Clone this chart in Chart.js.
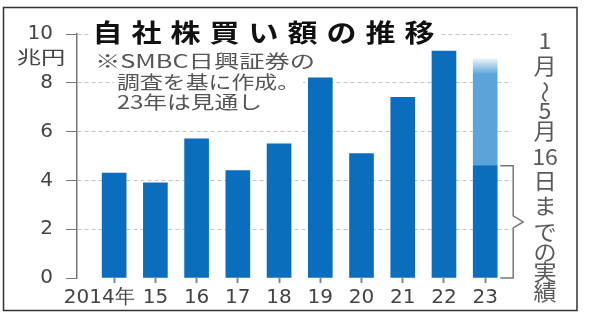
<!DOCTYPE html>
<html lang="ja">
<head>
<meta charset="utf-8">
<script src="https://cdn.jsdelivr.net/npm/chart.js@4.4.1/dist/chart.umd.min.js"></script>
<style>
  html, body { margin: 0; padding: 0; background: #fff; }
  canvas { background: #fff; }
</style>
</head>
<body>
<canvas id="chart" width="604" height="321"></canvas>
<script>
// 自社株買い額(兆円)
const years = ['2014年', '15', '16', '17', '18', '19', '20', '21', '22', '23'];
const actual = [4.3, 3.9, 5.7, 4.4, 5.5, 8.2, 5.1, 7.4, 9.3, 4.6];        // 23年は1月〜5月16日までの実績
const outlook = [null, null, null, null, null, null, null, null, null, 9.0]; // 23年の見通し
const yTicks = [0, 2, 4, 6, 8, 10];

const titleText = '自社株買い額の推移';
const unitText = '兆円';
const noteLines = ['※SMBC日興証券の', '調査を基に作成。', '23年は見通し'];
const sideText = ['1', '月', '〜', '5', '月', '16', '日', 'ま', 'で', 'の', '実', '績'];

const DARK = '#0b6dbd';
const LIGHT = '#5ba3d9';
const JP = '"Noto Sans CJK JP", "Noto Sans", sans-serif';

// 横に伸ばした文字を描く
const drawText = (ctx, text, x, y, sx, align) => {
    ctx.save();
    ctx.translate(x, y);
    ctx.scale(sx, 1);
    ctx.textAlign = align || 'left';
    ctx.fillText(text, 0, 0);
    ctx.restore();
};

const decor = {
    id: 'decor',
    afterDraw(chart) {
        const ctx = chart.ctx;
        const y = chart.scales.y;
        ctx.save();
        ctx.textBaseline = 'middle';

        // タイトル
        ctx.fillStyle = '#fff';
        ctx.fillRect(89, 16, 352, 32);
        ctx.fillStyle = '#111';
        ctx.font = 'bold 25px ' + JP;
        [...titleText].forEach((ch, i) => drawText(ctx, ch, 107.5 + i * 39, 32, 1.2, 'center'));

        // 単位
        ctx.fillStyle = '#444';
        ctx.font = '18px ' + JP;
        drawText(ctx, unitText, 41, 57, 1.35, 'center');

        // 注記
        ctx.font = '18px ' + JP;
        const notes = [[95, 61, 220], [117, 82, 183], [117, 102, 145]];
        noteLines.forEach((t, i) => {
            const [nx, ny, w] = notes[i];
            ctx.fillStyle = '#fff';
            ctx.fillRect(nx - 3, ny - 10, w + 6, 20);
            ctx.fillStyle = '#555';
            drawText(ctx, t, nx, ny, w / ctx.measureText(t).width);
        });

        // 右の縦書き
        ctx.fillStyle = '#5a5a5a';
        ctx.font = '22px ' + JP;
        const sideY = [41, 66, 92, 111, 131, 157, 181, 206, 232, 252, 272, 292];
        sideText.forEach((ch, i) => {
            if (ch === '〜') {
                ctx.save();
                ctx.translate(545, sideY[i]);
                ctx.rotate(Math.PI / 2);
                ctx.textAlign = 'center';
                ctx.fillText(ch, 0, 0);
                ctx.restore();
            } else {
                drawText(ctx, ch, 545, sideY[i], 1.05, 'center');
            }
        });

        // 実績部分のかっこ
        const bar = chart.getDatasetMeta(0).data[actual.length - 1];
        const right = bar.x + bar.width / 2;
        const top = bar.y;
        const bottom = y.getPixelForValue(0);
        const mid = (top + bottom) / 2;
        const lx = right + 16;
        ctx.strokeStyle = '#777';
        ctx.lineWidth = 1.5;
        ctx.beginPath();
        ctx.moveTo(right + 3, top);
        ctx.lineTo(lx, top);
        ctx.lineTo(lx, mid - 6);
        ctx.lineTo(lx + 10, mid);
        ctx.lineTo(lx, mid + 6);
        ctx.lineTo(lx, bottom);
        ctx.lineTo(right + 3, bottom);
        ctx.stroke();

        // 枠
        ctx.strokeStyle = '#333';
        ctx.lineWidth = 1.5;
        ctx.strokeRect(3.5, 7.5, 573.5, 303);
        ctx.restore();
    }
};

const ctx = document.getElementById('chart').getContext('2d');

new Chart(ctx, {
    type: 'bar',
    data: {
        datasets: [{
            label: '実績',
            data: years.map((_, i) => ({ x: i, y: actual[i] })),
            backgroundColor: DARK,
            barThickness: 24
        }, {
            label: '見通し',
            data: years.map((_, i) => outlook[i] == null ? null : { x: i, y: outlook[i] - actual[i] }).filter(Boolean),
            backgroundColor: (c) => {
                const chart = c.chart;
                if (!chart.chartArea || !c.raw) return LIGHT;
                const top = chart.scales.y.getPixelForValue(outlook[c.raw.x]);
                const g = chart.ctx.createLinearGradient(0, top, 0, top + 16);
                g.addColorStop(0, 'rgba(91,163,217,0.1)');
                g.addColorStop(1, LIGHT);
                return g;
            },
            barThickness: 24
        }]
    },
    options: {
        responsive: false,
        animation: false,
        layout: { padding: { left: 14.6, top: 34, right: 92, bottom: 8 } },
        plugins: {
            legend: { display: false },
            tooltip: { enabled: false }
        },
        scales: {
            x: {
                type: 'linear',
                min: -0.9,
                max: 9.65,
                offset: false,
                stacked: true,
                afterBuildTicks: (s) => { s.ticks = years.map((_, i) => ({ value: i })); },
                afterFit: (s) => { s.paddingLeft = 0; s.paddingRight = 0; },
                grid: { offset: false, drawOnChartArea: false, tickLength: 5, tickColor: '#888', tickWidth: 2 },
                border: { display: false },
                ticks: {
                    autoSkip: false,
                    maxRotation: 0,
                    minRotation: 0,
                    padding: 3,
                    color: '#444',
                    font: { family: 'DejaVu Sans', size: 20 },
                    callback: (v) => (v === 0 ? years[v] + '\u2002\u2002\u2002' : years[v])
                }
            },
            y: {
                min: 0,
                max: 10,
                stacked: true,
                afterBuildTicks: (s) => { s.ticks = yTicks.map(v => ({ value: v })); },
                grid: {
                    color: yTicks.map(v => (v === 0 ? 'rgba(0,0,0,0)' : '#c4c4c4')),
                    tickColor: '#777',
                    tickLength: 11
                },
                border: { color: '#777', width: 1.5, dash: [4, 3] },
                ticks: {
                    padding: 13,
                    color: '#444',
                    font: { family: 'DejaVu Sans', size: 20 }
                }
            }
        }
    },
    plugins: [decor]
});
</script>
</body>
</html>
